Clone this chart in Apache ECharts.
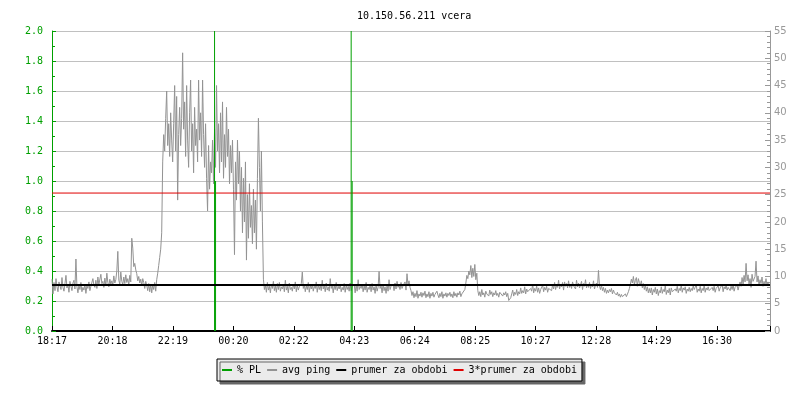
<!DOCTYPE html>
<html>
<head>
<meta charset="utf-8">
<script src="https://cdn.jsdelivr.net/npm/echarts@6/dist/echarts.min.js"></script>
<style>html,body{margin:0;padding:0;background:#fff}#c{width:800px;height:400px}</style>
</head>
<body>
<div id="c"></div>
<script>
// ---- data ----
const TITLE = '10.150.56.211 vcera';
const TICK_LABELS = ['18:17','20:18','22:19','00:20','02:22','04:23','06:24','08:25','10:27','12:28','14:29','16:30'];
const SPAN_MIN = 1440;      // minutes shown
const TICK_STEP = 121.25;   // minutes between time labels
const PING_STEP = 2;        // minutes between ping samples
const SERIES_NAMES = ['% PL','avg ping','prumer za obdobi','3*prumer za obdobi'];

// avg ping, ms (right axis), one sample every 2 minutes from 18:17
const pingMs = [
 9.5,6.8,8.9,7.4,9.6,8.1,7.2,9.0,8.3,7.6,9.8,8.0,7.3,8.7,10.2,7.9,8.5,7.1,9.1,8.2,
 7.4,8.8,9.3,7.7,13.2,8.1,7.0,8.4,7.6,8.9,7.2,8.0,7.5,8.6,6.9,8.3,7.8,9.0,7.4,8.2,
 7.9,9.6,8.4,8.0,9.3,7.8,9.9,8.5,8.2,10.4,8.7,9.1,8.0,9.7,8.3,10.6,8.9,8.1,9.5,8.6,
 9.2,8.4,10.1,8.8,9.4,11.0,14.6,9.3,8.6,10.8,9.1,8.5,9.9,8.7,10.3,8.9,9.6,8.4,10.2,9.0,
 17.0,15.2,11.8,12.4,11.2,10.5,9.2,10.0,8.8,9.5,8.3,9.6,8.9,7.8,9.1,8.4,7.4,8.7,7.2,8.6,
 7.0,8.5,7.6,8.9,7.3,9.4,10.6,12.0,13.5,15.0,18.0,31,36,33,39,44,34,38,32,40,
 35,31,38,45,33,43,24,36,41,34,39,51,37,42,32,45,35,30,40,46,
 33,38,29,41,34,37,31,46,35,40,32,46,36,30,38,28,22,34,26,31,
 29,35,27,37,30,45,33,38,29,40,31,42,28,36,30,41,32,37,27,34,
 29,35,26,14,31,24,35,27,33,22,30,18,28,20,31,13,25,17,27,19,
 23,16,26,18,24,15,28,39,30,22,33,20,9.5,7.6,8.4,7.1,8.9,7.5,8.2,7.0,
 8.6,7.8,9.1,7.4,8.3,7.1,8.7,7.6,8.9,7.3,8.1,7.7,8.5,7.2,9.3,7.5,8.2,7.0,8.8,7.6,
 8.0,7.3,8.6,7.7,9.0,7.2,8.4,7.5,8.1,7.9,8.7,10.8,7.8,8.5,7.2,8.3,7.6,8.9,7.1,8.4,
 7.7,8.6,7.3,8.2,7.8,9.0,7.1,8.5,7.6,8.3,7.4,9.3,7.7,8.4,7.2,8.8,7.5,8.1,7.3,9.6,
 7.8,8.5,7.0,8.3,7.6,8.9,7.4,8.2,7.7,8.6,7.2,8.0,7.5,8.7,7.1,8.4,7.6,8.2,7.3,8.8,
 7.4,8.1,7.9,8.6,7.0,8.5,7.3,9.4,7.6,8.2,7.8,8.6,7.2,8.3,7.5,8.9,7.1,8.0,7.6,8.4,
 7.2,8.7,7.5,8.1,6.9,8.5,7.3,8.0,10.9,7.8,8.3,7.0,8.6,7.4,8.1,6.9,8.5,7.3,9.4,7.6,
 8.2,7.9,8.6,7.4,8.8,7.7,9.1,8.0,8.4,7.6,8.9,7.8,8.3,8.1,9.0,7.5,10.5,8.4,9.2,8.0,
 7.4,6.5,7.2,6.1,6.9,6.3,7.4,6.0,6.8,6.4,7.1,6.2,7.0,6.5,7.3,6.1,6.8,6.3,7.2,6.0,
 6.9,6.4,7.1,6.2,6.7,6.5,7.3,6.6,6.1,6.9,6.3,7.2,6.0,6.8,6.4,7.0,6.2,6.9,6.5,7.1,
 6.3,6.8,6.1,7.2,6.4,6.9,6.2,7.0,6.6,7.3,6.3,6.8,6.5,7.1,7.6,8.8,10.2,9.6,11.0,10.3,
 12.0,9.8,11.5,10.0,12.2,9.4,10.6,7.4,6.5,7.2,6.3,7.6,6.6,7.0,6.2,7.3,6.8,7.1,6.4,7.5,
 6.7,7.2,6.3,7.0,6.6,7.4,6.5,6.9,6.2,7.1,6.8,7.3,6.4,7.0,6.6,7.2,6.3,6.9,5.6,5.9,
 6.1,6.8,7.5,6.4,7.1,6.7,7.6,6.5,7.2,6.8,7.9,6.9,7.4,7.0,8.1,6.8,7.7,7.2,7.5,6.9,
 7.8,7.3,8.6,7.0,7.8,7.3,8.3,7.1,7.9,6.9,7.6,7.4,8.4,7.2,8.0,7.5,8.2,7.1,7.8,7.6,
 8.1,7.4,8.5,7.7,8.9,7.6,8.4,8.0,9.3,7.7,8.6,8.1,8.9,7.5,9.0,8.2,8.7,7.9,9.2,8.0,
 8.5,7.8,9.0,8.3,8.6,7.7,9.3,8.1,8.8,7.9,8.4,9.1,7.6,8.7,8.2,9.4,7.9,8.6,8.0,8.9,
 7.8,8.5,8.1,9.2,7.7,8.4,8.8,8.0,11.1,8.3,7.6,8.4,7.4,8.0,7.1,7.8,6.9,7.5,7.0,7.6,
 7.2,7.8,6.8,7.5,7.0,7.3,6.6,7.1,6.4,6.8,6.2,6.7,6.3,6.5,6.1,6.8,6.3,6.6,7.2,7.8,
 8.6,9.5,8.8,10.0,8.5,9.3,9.8,8.2,9.6,8.9,8.4,9.2,7.9,8.7,7.6,8.4,7.3,8.1,7.0,7.8,
 7.0,7.9,6.6,7.6,7.1,8.0,6.8,7.7,6.5,7.4,7.0,8.1,6.9,7.6,7.2,8.3,6.7,7.5,7.0,7.8,
 6.6,7.9,7.2,7.5,7.1,7.7,7.3,8.2,7.0,7.8,7.4,8.4,7.1,7.9,7.5,8.1,6.9,7.7,7.3,8.0,
 7.2,7.8,7.4,8.3,7.6,8.0,8.6,7.1,7.7,7.3,8.2,7.0,7.8,7.4,8.4,7.1,7.9,7.5,8.1,7.4,
 7.7,7.2,8.0,7.4,8.2,7.1,7.8,7.5,8.3,7.3,7.9,7.6,8.5,7.2,8.1,7.7,8.4,7.5,8.0,7.8,
 7.4,8.2,7.6,8.5,7.3,8.0,7.7,8.4,7.5,8.3,9.0,8.2,9.8,8.6,10.2,9.0,12.4,9.2,10.3,8.6,
 9.6,8.0,10.4,9.1,8.8,10.0,12.8,9.0,10.1,8.4,9.4,8.7,9.9,8.2,9.1,8.5,9.6,8.3,9.0,8.6
];
// packet loss spikes (left axis)
const plTimes  = [326, 328, 600, 602];
const plValues = [2.0, 1.0, 2.0, 1.0];
const meanMs = 8.43;
const triMeanMs = 25.29;

// ---- chart ----
const MONO = 'DejaVu Sans Mono';
const GREEN = '#00a000', GRAY = '#939393', GRID = '#c0c0c0';

const pingData = pingMs.map((v, i) => [i * PING_STEP, v]);
const plData = plTimes.map((t, i) => [t, plValues[i]]);

const chart = echarts.init(document.getElementById('c'), null, {renderer: 'canvas'});
chart.setOption({
  animation: false,
  backgroundColor: '#fff',
  title: {
    text: TITLE, left: 352, top: 6,
    textStyle: {fontFamily: MONO, fontSize: 10, fontWeight: 'normal', color: '#000'}
  },
  grid: {left: 52, right: 30, top: 31, bottom: 69},
  legend: {
    data: SERIES_NAMES,
    left: 217, top: 359,
    padding: [6, 5, 6, 5],
    itemGap: 6, itemWidth: 10, itemHeight: 2, icon: 'rect',
    backgroundColor: '#ebebeb', borderColor: '#000', borderWidth: 1,
    shadowColor: '#666', shadowBlur: 0, shadowOffsetX: 3, shadowOffsetY: 3,
    textStyle: {fontFamily: MONO, fontSize: 10, color: '#000'}
  },
  xAxis: {
    type: 'value', min: 0, max: SPAN_MIN, interval: TICK_STEP,
    axisLine: {lineStyle: {color: '#000', width: 2}},
    axisTick: {inside: true, length: 5, lineStyle: {color: '#000'}},
    axisLabel: {
      fontFamily: MONO, fontSize: 10, color: '#000', margin: 5,
      formatter: v => TICK_LABELS[Math.round(v / TICK_STEP)] || ''
    },
    splitLine: {show: false}
  },
  yAxis: [
    {
      type: 'value', min: 0, max: 2, interval: 0.2,
      axisLine: {show: true, lineStyle: {color: GREEN}},
      axisTick: {show: true, inside: true, length: 4, lineStyle: {color: GREEN}},
      minorTick: {show: true, splitNumber: 2, length: 3, lineStyle: {color: GREEN}},
      axisLabel: {fontFamily: MONO, fontSize: 10, color: GREEN, margin: 9, formatter: v => v.toFixed(1)},
      splitLine: {show: true, lineStyle: {color: GRID, width: 1}}
    },
    {
      type: 'value', min: 0, max: 55, interval: 5, position: 'right',
      axisLine: {show: true, lineStyle: {color: '#999'}},
      axisTick: {show: true, inside: true, length: 5, lineStyle: {color: '#999'}},
      minorTick: {show: true, splitNumber: 5, length: 3, lineStyle: {color: '#999'}},
      axisLabel: {fontFamily: 'DejaVu Sans', fontSize: 10, color: '#999', margin: 4},
      splitLine: {show: false}
    }
  ],
  series: [
    {
      name: SERIES_NAMES[0], type: 'bar', yAxisIndex: 0, data: plData,
      barWidth: 1, itemStyle: {color: GREEN}, z: 4
    },
    {
      name: SERIES_NAMES[1], type: 'line', yAxisIndex: 1, data: pingData,
      showSymbol: false, symbol: 'none', lineStyle: {color: GRAY, width: 1}, itemStyle: {color: GRAY}, z: 2
    },
    {
      name: SERIES_NAMES[2], type: 'line', yAxisIndex: 1, data: [[0, meanMs], [SPAN_MIN, meanMs]],
      symbol: 'none', lineStyle: {color: '#000', width: 2}, itemStyle: {color: '#000'}, z: 5
    },
    {
      name: SERIES_NAMES[3], type: 'line', yAxisIndex: 1, data: [[0, triMeanMs], [SPAN_MIN, triMeanMs]],
      symbol: 'none', lineStyle: {color: '#e00000', width: 1}, itemStyle: {color: '#e00000'}, z: 3
    }
  ]
});
</script>
</body>
</html>
